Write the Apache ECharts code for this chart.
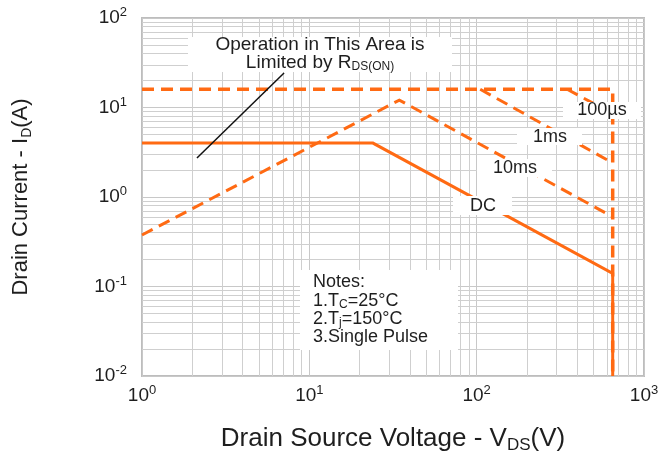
<!DOCTYPE html>
<html><head><meta charset="utf-8">
<script src="https://cdn.jsdelivr.net/npm/echarts@6/dist/echarts.min.js"></script>
<style>html,body{margin:0;padding:0;background:#fff}#c{width:666px;height:452px}</style>
</head><body><div id="c"></div>
<script>
// Axis ranges / tick values
const xRange = [1, 1000];
const yRange = [0.01, 100];
const xMinor = [2,3,4,5,6,7,8,9,20,30,40,50,60,70,80,90,200,300,400,500,600,700,800,900];
const yMinor = [0.02,0.03,0.04,0.05,0.06,0.07,0.08,0.09,0.2,0.3,0.4,0.5,0.6,0.7,0.8,0.9,2,3,4,5,6,7,8,9,20,30,40,50,60,70,80,90];

// Curves (V in volts, I in amps)
const limitV = [1, 650, 650];
const limitI = [16, 16, 0.01];
const us100V = [347, 650];
const us100I = [16, 8.5];
const ms1V = [105, 650];
const ms1I = [16, 2.4];
const ms10V = [1, 34.5, 650];
const ms10I = [0.376, 12.1, 0.6];
const dcV = [1, 24, 650, 650];
const dcI = [4.0, 4.0, 0.14, 0.01];
const rdsV = [2.13, 7.06];
const rdsI = [2.73, 24.3];

const ORANGE = '#ff6a13';
const TXT = '#1e1e1e';
const FONT = '"Liberation Sans", Arial, sans-serif';

function pairs(xs, ys){ return xs.map((x,i)=>[x, ys[i]]); }
function expLabel(v){
  const e = Math.round(Math.log10(v));
  return '{b|10}{s|' + e + '}';
}
const tickRich = {
  b: {fontSize: 19, fontFamily: FONT, color: TXT, lineHeight: 24},
  s: {fontSize: 13, fontFamily: FONT, color: TXT, lineHeight: 12, verticalAlign: 'top'}
};

function line(name, xs, ys, width, dashed, color){
  return {
    name: name, type: 'line', data: pairs(xs, ys), symbol: 'none', showSymbol: false,
    silent: true, animation: false, z: 10,
    lineStyle: {color: color || ORANGE, width: width, type: dashed ? [12, 7] : 'solid', cap: 'butt', join: 'miter'}
  };
}

const chart = echarts.init(document.getElementById('c'), null, {renderer: 'canvas'});
chart.setOption({
  backgroundColor: '#fff',
  animation: false,
  grid: {left: 142, top: 18, width: 502, height: 358, containLabel: false, outerBoundsMode: 'none',
         show: true, borderColor: '#bdbdbd', borderWidth: 2, backgroundColor: 'transparent'},
  xAxis: {
    type: 'log', logBase: 10, min: xRange[0], max: xRange[1],
    axisLine: {show: false}, axisTick: {show: false},
    splitLine: {show: true, lineStyle: {color: '#c8c8c8', width: 1}},
    axisLabel: {formatter: expLabel, rich: tickRich, margin: 8},
    name: '{t|Drain Source Voltage - V}{u|DS}{t|(V)}',
    nameLocation: 'middle', nameGap: 48,
    nameTextStyle: {rich: {
      t: {fontSize: 26, fontFamily: FONT, color: TXT, lineHeight: 30},
      u: {fontSize: 17, fontFamily: FONT, color: TXT, lineHeight: 14, verticalAlign: 'bottom'}
    }}
  },
  yAxis: {
    type: 'log', logBase: 10, min: yRange[0], max: yRange[1],
    axisLine: {show: false}, axisTick: {show: false},
    splitLine: {show: true, lineStyle: {color: '#c8c8c8', width: 1}},
    axisLabel: {formatter: expLabel, rich: tickRich, margin: 15},
    name: '{t|Drain Current - I}{u|D}{t|(A)}',
    nameLocation: 'middle', nameGap: 108, nameRotate: 90,
    nameTextStyle: {rich: {
      t: {fontSize: 22, fontFamily: FONT, color: TXT, lineHeight: 26},
      u: {fontSize: 14, fontFamily: FONT, color: TXT, lineHeight: 12, verticalAlign: 'bottom'}
    }}
  },
  series: [
    {
      name: 'minor grid', type: 'line', data: [], silent: true, animation: false, z: 1,
      markLine: {
        z: 1, silent: true, animation: false, symbol: ['none', 'none'], label: {show: false},
        lineStyle: {color: '#cfcfcf', width: 1, type: 'solid'},
        emphasis: {disabled: true},
        data: xMinor.map(v => ({xAxis: v})).concat(yMinor.map(v => ({yAxis: v})))
      }
    },
    line('Limit', limitV, limitI, 3.5, true),
    line('100µs', us100V, us100I, 3, true),
    line('1ms', ms1V, ms1I, 3, true),
    line('10ms', ms10V, ms10I, 3, true),
    line('DC', dcV, dcI, 3, false),
    line('RDS(on)', rdsV, rdsI, 1.5, false, '#111')
  ],
  graphic: [
    {type: 'rect', z: 100, shape: {x: 188, y: 37, width: 264, height: 35}, style: {fill: '#fff'}},
    {type: 'text', z: 101, x: 320, y: 45, style: {text: 'Operation in This Area is', font: '19px ' + FONT, fill: TXT, align: 'center', verticalAlign: 'middle'}},
    {type: 'text', z: 101, x: 320, y: 63, style: {
      text: '{a|Limited by R}{b|DS(ON)}', align: 'center', verticalAlign: 'middle',
      rich: {a: {fontSize: 19, fontFamily: FONT, fill: TXT, lineHeight: 20},
             b: {fontSize: 12, fontFamily: FONT, fill: TXT, lineHeight: 10, verticalAlign: 'bottom'}}}},

    {type: 'rect', z: 100, shape: {x: 563, y: 102, width: 78, height: 17}, style: {fill: '#fff'}},
    {type: 'text', z: 101, x: 602, y: 110, style: {text: '100µs', font: '18px ' + FONT, fill: TXT, align: 'center', verticalAlign: 'middle'}},
    {type: 'rect', z: 100, shape: {x: 517, y: 128, width: 65, height: 17}, style: {fill: '#fff'}},
    {type: 'text', z: 101, x: 550, y: 137, style: {text: '1ms', font: '18px ' + FONT, fill: TXT, align: 'center', verticalAlign: 'middle'}},
    {type: 'rect', z: 100, shape: {x: 477, y: 159, width: 75, height: 18}, style: {fill: '#fff'}},
    {type: 'text', z: 101, x: 515, y: 168, style: {text: '10ms', font: '18px ' + FONT, fill: TXT, align: 'center', verticalAlign: 'middle'}},
    {type: 'rect', z: 100, shape: {x: 453, y: 196, width: 59, height: 19}, style: {fill: '#fff'}},
    {type: 'text', z: 101, x: 483, y: 206, style: {text: 'DC', font: '18px ' + FONT, fill: TXT, align: 'center', verticalAlign: 'middle'}},

    {type: 'rect', z: 100, shape: {x: 300, y: 270, width: 158, height: 80}, style: {fill: '#fff'}},
    {type: 'text', z: 101, x: 313, y: 282, style: {text: 'Notes:', font: '18px ' + FONT, fill: TXT, align: 'left', verticalAlign: 'middle'}},
    {type: 'text', z: 101, x: 313, y: 301, style: {text: '{a|1.T}{b|C}{a|=25°C}', align: 'left', verticalAlign: 'middle',
      rich: {a: {fontSize: 18, fontFamily: FONT, fill: TXT, lineHeight: 20}, b: {fontSize: 12, fontFamily: FONT, fill: TXT, lineHeight: 10, verticalAlign: 'bottom'}}}},
    {type: 'text', z: 101, x: 313, y: 319, style: {text: '{a|2.T}{b|j}{a|=150°C}', align: 'left', verticalAlign: 'middle',
      rich: {a: {fontSize: 18, fontFamily: FONT, fill: TXT, lineHeight: 20}, b: {fontSize: 12, fontFamily: FONT, fill: TXT, lineHeight: 10, verticalAlign: 'bottom'}}}},
    {type: 'text', z: 101, x: 313, y: 337, style: {text: '3.Single Pulse', font: '18px ' + FONT, fill: TXT, align: 'left', verticalAlign: 'middle'}}
  ]
});
</script>
</body></html>
